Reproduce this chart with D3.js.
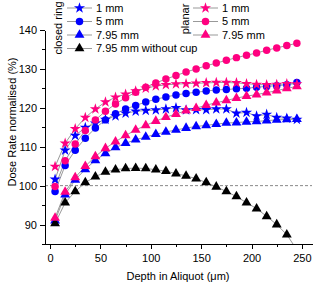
<!DOCTYPE html>
<html lang="en">
<head>
    <meta charset="UTF-8">
    <title>Dose rate vs depth</title>
    <style>
        body {
            margin: 0;
            background-color: #ffffff;
            font-family: "Liberation Sans", Arial, sans-serif;
        }
        svg {
            display: block;
        }
        .axis path,
        .axis line {
            fill: none;
            stroke: #000;
            stroke-width: 1;
            shape-rendering: crispEdges;
        }
        .axis text {
            font-size: 11px;
            font-family: "Liberation Sans", Arial, sans-serif;
            fill: #000;
        }
    </style>
</head>
<body>
<script src="https://cdn.jsdelivr.net/npm/d3@7"></script>
<script>
    // depth in aliquot (um)
    var depth = [5, 15, 25, 35, 45, 55, 65, 75, 85, 95, 105, 115, 125, 135, 145, 155, 165, 175, 185, 195, 205, 215, 225, 235, 245];

    // closed ring
    var ring1mm = [101.6, 109.1, 112.9, 114.9, 116.0, 117.0, 117.9, 118.6, 119.1, 119.3, 119.4, 119.7, 120.0, 119.4, 119.5, 119.5, 119.7, 119.7, 118.6, 118.8, 117.9, 118.3, 117.5, 117.3, 117.0];
    var ring5mm = [98.5, 105.2, 109.1, 112.2, 114.8, 116.9, 118.5, 119.7, 120.6, 121.5, 122.2, 122.8, 123.3, 123.7, 124.0, 124.3, 124.6, 124.7, 124.9, 125.0, 125.3, 125.5, 125.7, 125.9, 126.5];
    var ring795mm = [91.0, 97.7, 101.5, 104.2, 106.5, 108.3, 109.8, 110.9, 111.8, 112.5, 113.2, 113.8, 114.3, 114.8, 115.2, 115.5, 115.8, 116.1, 116.2, 116.4, 116.5, 116.7, 116.9, 117.0, 117.1];
    var ring795noCup = [90.3, 95.6, 98.5, 100.8, 102.3, 103.5, 104.1, 104.4, 104.5, 104.4, 104.1, 103.7, 103.1, 102.5, 101.8, 100.8, 99.7, 98.5, 97.2, 95.6, 94.1, 92.1, 90.0, 87.4, 83.5];

    // planar
    var planar1mm = [104.9, 110.9, 114.6, 117.5, 119.7, 121.5, 122.7, 123.5, 124.3, 125.0, 125.6, 125.9, 126.1, 126.2, 126.3, 126.4, 126.5, 126.5, 126.4, 126.2, 126.0, 125.9, 126.0, 126.2, 126.1];
    var planar5mm = [99.8, 106.4, 110.7, 114.2, 116.9, 119.1, 121.0, 122.6, 124.0, 125.3, 126.4, 127.4, 128.3, 129.2, 130.0, 130.8, 131.5, 132.2, 132.9, 133.5, 134.1, 134.8, 135.4, 136.0, 136.6];
    var planar795mm = [91.7, 98.4, 102.1, 105.0, 107.5, 109.6, 111.3, 112.9, 114.3, 115.5, 116.6, 117.6, 118.4, 119.3, 119.9, 120.7, 121.3, 121.9, 122.5, 123.0, 123.4, 123.9, 124.4, 125.0, 125.5];

    var xTicks = [0, 50, 100, 150, 200, 250];
    var yTicks = [90, 100, 110, 120, 130, 140];

    var series = [
        {label: "1 mm", values: ring1mm, color: "#0000ff", shape: d3.symbolStar, size: 38},
        {label: "5 mm", values: ring5mm, color: "#0000ff", shape: d3.symbolCircle, size: 44},
        {label: "7.95 mm", values: ring795mm, color: "#0000ff", shape: d3.symbolTriangle, size: 42},
        {label: "7.95 mm without cup", values: ring795noCup, color: "#000000", shape: d3.symbolTriangle, size: 42},
        {label: "1 mm", values: planar1mm, color: "#ff0080", shape: d3.symbolStar, size: 38},
        {label: "5 mm", values: planar5mm, color: "#ff0080", shape: d3.symbolCircle, size: 44},
        {label: "7.95 mm", values: planar795mm, color: "#ff0080", shape: d3.symbolTriangle, size: 42}
    ];

    var width = 320, height = 284;
    var margin = {left: 45, right: 312, top: 30, bottom: 244};

    var svg = d3.select("body").append("svg")
        .attr("width", width)
        .attr("height", height);

    var xScale = d3.scaleLinear().domain([-5, 260]).range([margin.left, margin.right]);
    var yScale = d3.scaleLinear().domain([85, 140]).range([margin.bottom, margin.top]);

    svg.append("clipPath")
        .attr("id", "plotClip")
        .append("rect")
        .attr("x", margin.left)
        .attr("y", 0)
        .attr("width", margin.right - margin.left)
        .attr("height", margin.bottom);

    // reference line at 100 %
    svg.append("line")
        .attr("x1", margin.left)
        .attr("x2", margin.right)
        .attr("y1", yScale(100))
        .attr("y2", yScale(100))
        .attr("stroke", "#888")
        .attr("stroke-width", 1)
        .attr("stroke-dasharray", "3,2");

    var plot = svg.append("g").attr("clip-path", "url(#plotClip)");

    var line = d3.line()
        .x(function(d) { return xScale(d[0]); })
        .y(function(d) { return yScale(d[1]); });

    series.forEach(function(s) {
        var pts = s.values.map(function(v, i) { return [depth[i], v]; });
        plot.append("path")
            .datum(pts)
            .attr("fill", "none")
            .attr("stroke", "#999")
            .attr("stroke-width", 1)
            .attr("d", line);
    });

    series.forEach(function(s) {
        var pts = s.values.map(function(v, i) { return [depth[i], v]; });
        plot.selectAll(null)
            .data(pts)
            .enter().append("path")
            .attr("transform", function(d) { return "translate(" + xScale(d[0]) + "," + yScale(d[1]) + ")"; })
            .attr("d", d3.symbol().type(s.shape).size(s.size))
            .attr("fill", s.color);
    });

    // axes
    var xAxis = d3.axisBottom(xScale).tickValues(xTicks).tickSize(5).tickSizeOuter(0);
    var xMinor = d3.axisBottom(xScale).tickValues([25, 75, 125, 175, 225]).tickSize(3).tickFormat("").tickSizeOuter(0);
    var yAxis = d3.axisLeft(yScale).tickValues(yTicks).tickSize(5).tickSizeOuter(0);
    var yMinor = d3.axisLeft(yScale).tickValues([85, 95, 105, 115, 125, 135]).tickSize(3).tickFormat("").tickSizeOuter(0);

    svg.append("g").attr("class", "axis").attr("transform", "translate(0," + margin.bottom + ")").call(xMinor);
    svg.append("g").attr("class", "axis").attr("transform", "translate(0," + margin.bottom + ")").call(xAxis)
        .selectAll("text").attr("dy", "0.9em");
    svg.append("g").attr("class", "axis").attr("transform", "translate(" + margin.left + ",0)").call(yMinor);
    svg.append("g").attr("class", "axis").attr("transform", "translate(" + margin.left + ",0)").call(yAxis);

    svg.append("text")
        .attr("x", 178)
        .attr("y", 280)
        .attr("text-anchor", "middle")
        .attr("font-size", "11px")
        .text("Depth in Aliquot (\u03bcm)");

    svg.append("text")
        .attr("transform", "translate(16,122) rotate(-90)")
        .attr("text-anchor", "middle")
        .attr("font-size", "11px")
        .text("Dose Rate normalised (%)");

    // legends
    function drawLegend(items, title, titleX, titleY, x0, rows) {
        svg.append("text")
            .attr("transform", "translate(" + titleX + "," + titleY + ") rotate(-90)")
            .attr("text-anchor", "middle")
            .attr("font-size", "11px")
            .text(title);
        items.forEach(function(s, i) {
            var y = rows[i];
            svg.append("line")
                .attr("x1", x0).attr("x2", x0 + 25)
                .attr("y1", y).attr("y2", y)
                .attr("stroke", "#999").attr("stroke-width", 1);
            svg.append("path")
                .attr("transform", "translate(" + (x0 + 12.5) + "," + y + ")")
                .attr("d", d3.symbol().type(s.shape).size(s.size))
                .attr("fill", s.color);
            svg.append("text")
                .attr("x", x0 + 29)
                .attr("y", y)
                .attr("dy", "0.35em")
                .attr("font-size", "11px")
                .text(s.label);
        });
    }

    drawLegend(series.slice(0, 4), "closed ring", 62, 28, 67, [8, 21.5, 35, 48.5]);
    drawLegend(series.slice(4), "planar", 189, 19, 193, [8, 21.5, 35]);
</script>
</body>
</html>
